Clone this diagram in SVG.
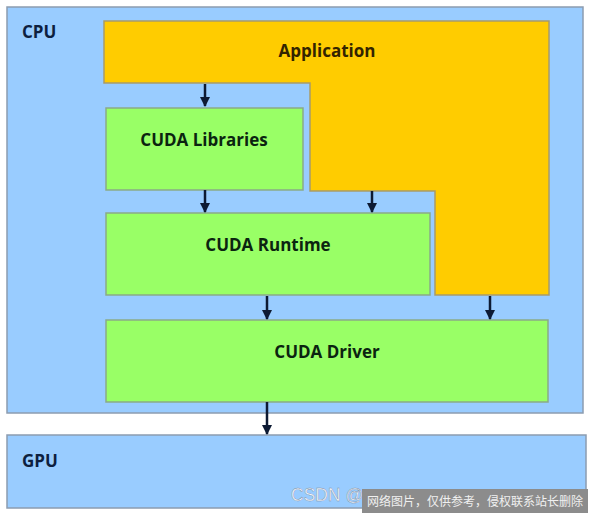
<svg xmlns="http://www.w3.org/2000/svg" width="594" height="516" viewBox="0 0 594 516">
<style>
.blue{fill:#99ccff;stroke:#8c9cb0;stroke-width:1.5}
.yellow{fill:#ffcc00;stroke:#a89a6a;stroke-width:1.5}
.green{fill:#99ff66;stroke:#8aaa88;stroke-width:1.5}
.t{font-family:"Open Sans","DejaVu Sans",sans-serif;font-weight:700;font-size:17px}
.tb{fill:#0d1f40}
.tg{fill:#0b2410}
.ty{fill:#332400}
.arr{stroke:#0d1a33;stroke-width:2.5;fill:none;marker-end:url(#ah)}
</style>
<defs>
<marker id="ah" viewBox="0 0 10 10" refX="9" refY="5" markerWidth="4" markerHeight="4" orient="auto" markerUnits="strokeWidth">
<path d="M0,0 L10,5 L0,10 z" fill="#0d1a33"/>
</marker>
</defs>
<rect width="594" height="516" fill="#ffffff"/>
<g id="cpu">
<rect class="blue" x="7" y="7" width="576" height="406"/>
<text class="t tb" x="22" y="38">CPU</text>
</g>
<g id="gpu">
<rect class="blue" x="7" y="435" width="579" height="73"/>
<text class="t tb" x="22" y="467">GPU</text>
</g>
<g id="application">
<polygon class="yellow" points="104,21 549,21 549,295 435,295 435,191 310,191 310,83 104,83"/>
<text class="t ty" x="327" y="57" text-anchor="middle">Application</text>
</g>
<g id="cuda-libraries">
<rect class="green" x="106" y="108" width="197" height="82"/>
<text class="t tg" x="204" y="146" text-anchor="middle">CUDA Libraries</text>
</g>
<g id="cuda-runtime">
<rect class="green" x="106" y="213" width="324" height="82"/>
<text class="t tg" x="268" y="251" text-anchor="middle">CUDA Runtime</text>
</g>
<g id="cuda-driver">
<rect class="green" x="106" y="320" width="442" height="82"/>
<text class="t tg" x="327" y="358" text-anchor="middle">CUDA Driver</text>
</g>
<g id="connectors">
<line class="arr" x1="205" y1="84" x2="205" y2="106"/>
<line class="arr" x1="205" y1="190" x2="205" y2="212"/>
<line class="arr" x1="372" y1="191" x2="372" y2="212"/>
<line class="arr" x1="267" y1="296" x2="267" y2="319"/>
<line class="arr" x1="490" y1="296" x2="490" y2="319"/>
<line class="arr" x1="267" y1="402" x2="267" y2="434"/>
</g>
<g id="watermark">
<text x="291" y="501" font-family="Liberation Sans, Arial, sans-serif" font-size="17.5" fill="#f4f8ff" stroke="#7a8aa0" stroke-width="0.4">CSDN @</text>
<rect x="362" y="489" width="226" height="24" fill="#8c8c8c"/>
<text x="367" y="506" font-family="Noto Sans CJK SC, sans-serif" font-size="12" fill="#f0f0f0" textLength="216" lengthAdjust="spacingAndGlyphs">网络图片，仅供参考，侵权联系站长删除</text>
</g>
</svg>
